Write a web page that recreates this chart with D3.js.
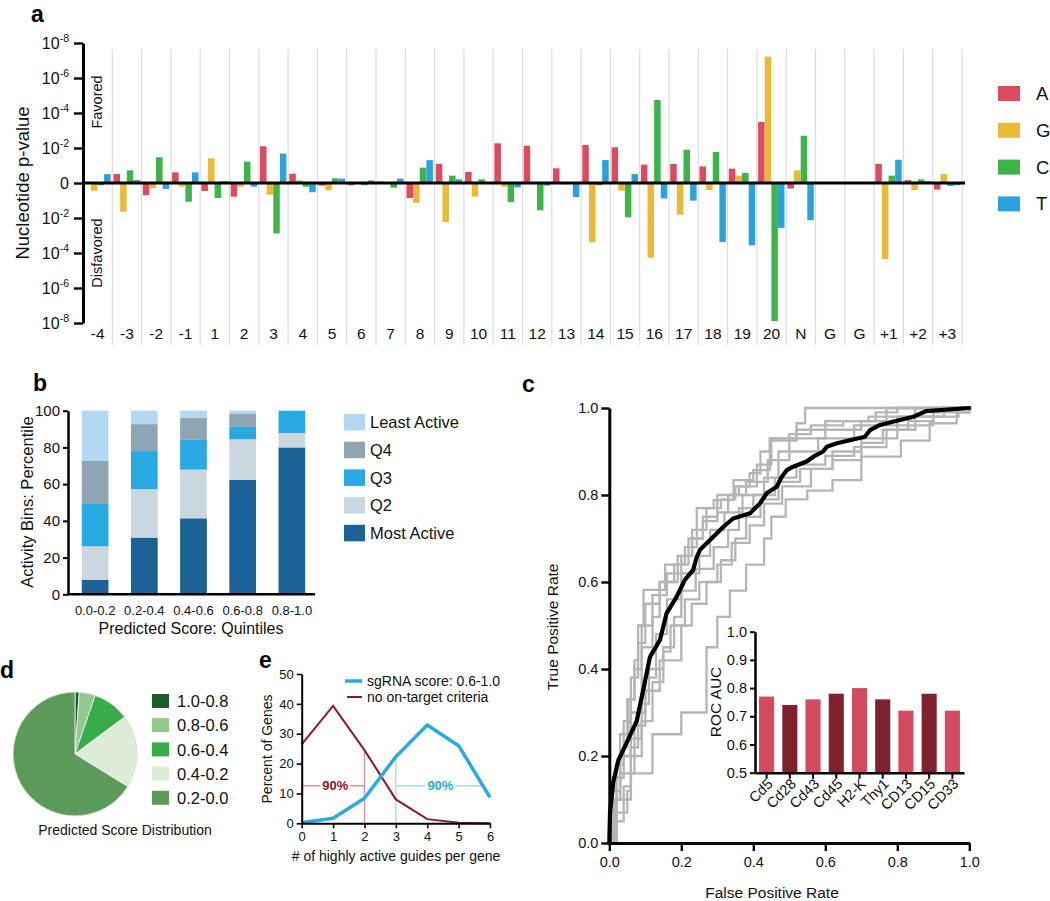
<!DOCTYPE html>
<html><head><meta charset="utf-8">
<script src="https://cdn.jsdelivr.net/npm/d3@7"></script>
<style>
body{margin:0;background:#fff;}
svg{display:block;font-family:"Liberation Sans",Arial,Helvetica,sans-serif;}
</style></head>
<body>
<svg id="fig" width="1050" height="901"></svg>
<script>
// ---------- DATA ----------
// Panel a: signed -log10(p) (positive = favored, negative = disfavored)
const positions = ["-4","-3","-2","-1","1","2","3","4","5","6","7","8","9","10","11","12","13","14","15","16","17","18","19","20","N","G","G","+1","+2","+3"];
const nucleotides = ["A","G","C","T"];
const valA = [0,0.51,-0.70,0.61,-0.46,-0.78,2.10,0.53,-0.15,-0.13,0.08,-0.86,1.10,0.63,2.27,2.13,0.84,2.17,2.04,1.05,1.09,0.95,0.82,3.49,-0.32,0,0,1.09,0.17,-0.38];
const valG = [-0.44,-1.64,-0.30,-0.21,1.41,-0.21,-0.67,0.15,-0.42,0.02,-0.05,-1.14,-2.23,-0.78,-0.21,-0.03,-0.08,-3.39,-0.44,-4.27,-1.81,-0.40,0.42,7.22,0.72,0,0,-4.34,-0.40,0.51];
const valC = [-0.13,0.72,1.47,-1.07,-0.86,1.22,-2.88,-0.21,0.27,-0.13,-0.27,0.88,0.42,0.21,-1.09,-1.56,0.02,-0.13,-1.96,4.74,1.90,1.77,0.57,-7.89,2.70,0,0,0.42,0.21,-0.17];
const valT = [0.51,0.17,-0.34,0.61,0.10,-0.21,1.68,-0.53,0.25,0.15,0.25,1.31,0.21,0.02,-0.25,-0.15,-0.80,1.31,0.51,-0.88,-1.01,-3.37,-3.56,-2.57,-2.13,0,0,1.33,0.11,-0.13];
const aTicks = [8,6,4,2,0,-2,-4,-6,-8];

// Panel b: stacked percentages per predicted score quintile
const quintiles = ["0.0-0.2","0.2-0.4","0.4-0.6","0.6-0.8","0.8-1.0"];
const activityBins = ["Most Active","Q2","Q3","Q4","Least Active"];
const mostActive  = [7.8,30.9,41.4,62.3,80.0];
const q2          = [18.3,26.3,26.5,22.1,7.8];
const q3          = [23.1,20.8,16.5,6.7,12.2];
const q4          = [23.4,14.7,11.8,7.1,0];
const leastActive = [27.4,7.3,3.8,1.8,0];

// Panel c: ROC curves
const rocMain = [[0,0],[0.002,0.07],[0.011,0.14],[0.025,0.19],[0.048,0.23],[0.076,0.28],[0.095,0.355],[0.113,0.428],[0.141,0.467],[0.159,0.528],[0.187,0.566],[0.21,0.605],[0.233,0.628],[0.243,0.658],[0.252,0.674],[0.289,0.704],[0.317,0.727],[0.344,0.746],[0.391,0.758],[0.419,0.781],[0.437,0.804],[0.465,0.819],[0.479,0.842],[0.493,0.857],[0.511,0.865],[0.548,0.877],[0.567,0.888],[0.594,0.9],[0.604,0.911],[0.632,0.919],[0.668,0.926],[0.71,0.934],[0.724,0.949],[0.752,0.961],[0.79,0.969],[0.845,0.98],[0.88,0.993],[1.0,1.0]];
const rocGene1 = [[0,0],[0.01,0.15],[0.03,0.25],[0.053,0.33],[0.07,0.42],[0.08,0.5],[0.095,0.582],[0.155,0.64],[0.21,0.68],[0.243,0.735],[0.243,0.77],[0.29,0.788],[0.345,0.834],[0.4,0.857],[0.446,0.925],[0.52,0.965],[0.544,1.0],[1,1]];
const rocGene2 = [[0,0],[0.02,0.1],[0.03,0.2],[0.06,0.3],[0.09,0.45],[0.12,0.52],[0.14,0.6],[0.19,0.66],[0.23,0.7],[0.26,0.74],[0.3,0.76],[0.33,0.8],[0.38,0.83],[0.44,0.88],[0.5,0.93],[0.6,0.95],[0.7,0.97],[0.77,1.0],[1,1]];
const rocGene3 = [[0,0],[0.015,0.07],[0.05,0.12],[0.06,0.22],[0.08,0.3],[0.1,0.38],[0.13,0.48],[0.16,0.56],[0.2,0.62],[0.25,0.66],[0.28,0.72],[0.32,0.76],[0.37,0.8],[0.43,0.84],[0.47,0.9],[0.58,0.93],[0.68,0.96],[0.8,0.98],[0.93,1.0],[1,1]];
const rocGene4 = [[0,0],[0.02,0.1],[0.06,0.16],[0.12,0.25],[0.2,0.3],[0.27,0.37],[0.27,0.45],[0.3,0.52],[0.335,0.58],[0.38,0.64],[0.43,0.7],[0.45,0.75],[0.49,0.79],[0.55,0.81],[0.62,0.834],[0.7,0.888],[0.81,0.925],[0.89,0.965],[0.965,0.99],[1,1]];
const rocGene5 = [[0,0],[0.01,0.12],[0.03,0.2],[0.07,0.27],[0.1,0.35],[0.14,0.42],[0.2,0.5],[0.229,0.55],[0.27,0.6],[0.31,0.65],[0.35,0.7],[0.38,0.75],[0.42,0.79],[0.47,0.83],[0.53,0.86],[0.62,0.9],[0.7,0.93],[0.8,0.96],[0.9,0.99],[1,1]];
const rocGene6 = [[0,0],[0.005,0.1],[0.02,0.18],[0.04,0.28],[0.06,0.38],[0.08,0.46],[0.1,0.55],[0.14,0.6],[0.18,0.64],[0.22,0.7],[0.26,0.75],[0.3,0.8],[0.36,0.82],[0.41,0.87],[0.45,0.93],[0.52,0.95],[0.6,0.97],[0.72,0.98],[0.85,1.0],[1,1]];
const rocGene7 = [[0,0],[0.01,0.05],[0.04,0.13],[0.06,0.24],[0.09,0.32],[0.11,0.4],[0.15,0.45],[0.18,0.52],[0.2,0.58],[0.24,0.63],[0.29,0.68],[0.33,0.72],[0.36,0.77],[0.4,0.8],[0.46,0.84],[0.52,0.87],[0.6,0.89],[0.68,0.91],[0.77,0.95],[0.85,0.98],[0.9,1.0],[1,1]];
const rocGene8 = [[0,0],[0.02,0.15],[0.04,0.22],[0.05,0.33],[0.07,0.4],[0.09,0.5],[0.12,0.57],[0.16,0.62],[0.2,0.66],[0.23,0.72],[0.27,0.77],[0.31,0.79],[0.35,0.82],[0.39,0.85],[0.42,0.9],[0.446,0.93],[0.5,0.94],[0.56,0.96],[0.65,0.97],[0.74,0.99],[0.8,1.0],[1,1]];
const rocGene9 = [[0,0],[0.015,0.1],[0.03,0.16],[0.07,0.2],[0.09,0.28],[0.12,0.37],[0.15,0.44],[0.17,0.5],[0.21,0.56],[0.25,0.6],[0.3,0.64],[0.34,0.69],[0.39,0.73],[0.43,0.78],[0.48,0.82],[0.56,0.86],[0.62,0.88],[0.7,0.92],[0.76,0.95],[0.83,0.97],[0.9,0.98],[0.97,1.0],[1,1]];
const rocAxisTicks = [0,0.2,0.4,0.6,0.8,1.0];

// Panel c inset: ROC AUC per gene
const genes = ["Cd5","Cd28","Cd43","Cd45","H2-K","Thy1","CD13","CD15","CD33"];
const aucValues = [0.77,0.74,0.76,0.78,0.80,0.76,0.72,0.78,0.72];
const aucTicks = [0.5,0.6,0.7,0.8,0.9,1.0];

// Panel d: predicted score distribution (%)
const scoreBins = ["1.0-0.8","0.8-0.6","0.6-0.4","0.4-0.2","0.2-0.0"];
const scoreShares = [1.1,4.2,9.5,19.0,66.2];

// Panel e: percent of genes vs # highly active guides
const guideCounts = [0,1,2,3,4,5,6];
const sgRNAScore = [0.2,1.7,8.4,22.3,32.9,26.0,8.7];
const noCriteria = [26.4,39.3,24.5,8.0,1.4,0.2,0.0];
const eYTicks = [0,10,20,30,40,50];
const ninety = {redX:2, blueX:3, level:12.6, blueEnd:5.77};

// ---------- DRAW ----------
const svg = d3.select("#fig");
svg.append("rect").attr("width",1050).attr("height",901).attr("fill","#fff");
const FONT = '"Liberation Sans",Arial,Helvetica,sans-serif';

function panelLabel(t,x,y){ svg.append("text").attr("x",x).attr("y",y).attr("font-size",23).attr("font-weight","bold").text(t); }
function styleAxis(g,w){ g.select(".domain").attr("stroke","#000").attr("stroke-width",w); g.selectAll(".tick line").attr("stroke","#000").attr("stroke-width",w*0.8); g.selectAll("text").attr("font-family",FONT).attr("fill","#111"); }

// ===== Panel a =====
const nucColors = {A:"#de4a5f",G:"#ebb935",C:"#3cb44a",T:"#2aa3dc"};
const aVals = {A:valA,G:valG,C:valC,T:valT};
const ax = d3.scaleBand().domain(d3.range(positions.length)).range([83,962]);
const axInner = d3.scaleBand().domain(nucleotides).range([1.2,27.6]).paddingInner(0.02);
const ay = d3.scaleLinear().domain([-8,8]).range([323,43]);
const aG = svg.append("g");
aG.selectAll("line.grid").data(d3.range(1,positions.length+1)).join("line")
  .attr("x1",i=>ax(0)+i*ax.step()).attr("x2",i=>ax(0)+i*ax.step())
  .attr("y1",49).attr("y2",345).attr("stroke","#dcdcdc").attr("stroke-width",1.2);
positions.forEach((p,i)=>{
  nucleotides.forEach(n=>{
    const v = aVals[n][i];
    if (v===0) return;
    aG.append("rect").attr("x",ax(i)+axInner(n)).attr("width",axInner.bandwidth())
      .attr("y",ay(Math.max(0,v))).attr("height",Math.abs(ay(v)-ay(0)))
      .attr("fill",nucColors[n]);
  });
});
aG.append("line").attr("x1",83).attr("x2",965).attr("y1",ay(0)).attr("y2",ay(0)).attr("stroke","#000").attr("stroke-width",3);
const aAxis = aG.append("g").attr("transform","translate(83,0)").call(d3.axisLeft(ay).tickValues(aTicks).tickSize(9).tickSizeOuter(0).tickFormat(""));
styleAxis(aAxis,3);
aAxis.selectAll(".tick").each(function(d){
  const t = d3.select(this).append("text").attr("x",-14).attr("dy","0.35em").attr("text-anchor","end").attr("font-size",16).attr("font-family",FONT).attr("fill","#111");
  if (d===0) t.text("0");
  else { t.append("tspan").text("10"); t.append("tspan").attr("dy",-7).attr("font-size",10.5).text("-"+Math.abs(d)); }
});
aG.selectAll("text.cat").data(positions).join("text")
  .attr("x",(d,i)=>ax(i)+ax.bandwidth()/2).attr("y",339).attr("text-anchor","middle")
  .attr("font-size",15.5).attr("fill","#111").text(d=>d);
aG.append("text").attr("transform","translate(29,183) rotate(-90)").attr("text-anchor","middle").attr("font-size",18.5).attr("fill","#111").text("Nucleotide p-value");
aG.append("text").attr("transform","translate(102,102) rotate(-90)").attr("text-anchor","middle").attr("font-size",14.5).attr("fill","#111").text("Favored");
aG.append("text").attr("transform","translate(102,253) rotate(-90)").attr("text-anchor","middle").attr("font-size",14.5).attr("fill","#111").text("Disfavored");
nucleotides.forEach((n,i)=>{
  const y = 86 + i*36.8;
  aG.append("rect").attr("x",998).attr("y",y).attr("width",22).attr("height",15).attr("fill",nucColors[n]);
  aG.append("text").attr("x",1036).attr("y",y+7.5).attr("dy","0.35em").attr("font-size",18.5).attr("fill","#111").text(n);
});
panelLabel("a",31,22);

// ===== Panel b =====
const binColors = {"Most Active":"#1b6396","Q2":"#cbd7df","Q3":"#29a9e1","Q4":"#8ea5b3","Least Active":"#b3d8f2"};
const bSeries = {"Most Active":mostActive,"Q2":q2,"Q3":q3,"Q4":q4,"Least Active":leastActive};
const bx = d3.scaleBand().domain(quintiles).range([68,319]).paddingInner(0.457).paddingOuter(0.28);
const by = d3.scaleLinear().domain([0,100]).range([594.3,410.7]);
const bG = svg.append("g");
const bRows = quintiles.map((q,i)=>{ const r={q}; activityBins.forEach(b=>r[b]=bSeries[b][i]); return r; });
const stack = d3.stack().keys(activityBins)(bRows);
stack.forEach(layer=>{
  bG.selectAll(null).data(layer).join("rect")
    .attr("x",d=>bx(d.data.q)).attr("width",bx.bandwidth())
    .attr("y",d=>by(d[1])).attr("height",d=>by(d[0])-by(d[1]))
    .attr("fill",binColors[layer.key]);
});
const bYAxis = bG.append("g").attr("transform","translate(68,0)").call(d3.axisLeft(by).tickValues([0,20,40,60,80,100]).tickSize(5).tickSizeOuter(0));
styleAxis(bYAxis,2.5); bYAxis.selectAll("text").attr("font-size",15);
const bXAxis = bG.append("g").attr("transform","translate(0,594.3)").call(d3.axisBottom(bx).tickSize(0).tickSizeOuter(0).tickPadding(11));
bXAxis.select(".domain").attr("d","M68,0H315").attr("stroke","#000").attr("stroke-width",2.5);
bXAxis.selectAll("text").attr("font-size",13).attr("font-family",FONT).attr("fill","#111");
bG.append("text").attr("x",191).attr("y",634).attr("text-anchor","middle").attr("font-size",16).attr("fill","#111").text("Predicted Score: Quintiles");
bG.append("text").attr("transform","translate(33,502) rotate(-90)").attr("text-anchor","middle").attr("font-size",16.5).attr("fill","#111").text("Activity Bins: Percentile");
activityBins.slice().reverse().forEach((b,i)=>{
  const y = 414 + i*27.7;
  bG.append("rect").attr("x",344).attr("y",y).attr("width",21).attr("height",16.5).attr("fill",binColors[b]);
  bG.append("text").attr("x",370).attr("y",y+8.5).attr("dy","0.35em").attr("font-size",16.5).attr("fill","#111").text(b);
});
panelLabel("b",33,391);

// ===== Panel c =====
const cx = d3.scaleLinear().domain([0,1]).range([609.3,969.3]);
const cy = d3.scaleLinear().domain([0,1]).range([843,408]);
const cG = svg.append("g");
const grayCurves = [rocGene1,rocGene2,rocGene3,rocGene4,rocGene5,rocGene6,rocGene7,rocGene8,rocGene9];
const stepLine = d3.line().x(d=>cx(d[0])).y(d=>cy(d[1])).curve(d3.curveStepAfter);
grayCurves.forEach(c=>cG.append("path").attr("d",stepLine(c)).attr("fill","none").attr("stroke","#b5b5b5").attr("stroke-width",2.3));
cG.append("path").attr("d",d3.line().x(d=>cx(d[0])).y(d=>cy(d[1]))(rocMain)).attr("fill","none").attr("stroke","#000").attr("stroke-width",4.2).attr("stroke-linejoin","round").attr("stroke-linecap","round");
const cYAxis = cG.append("g").attr("transform","translate(609.3,0)").call(d3.axisLeft(cy).tickValues(rocAxisTicks).tickFormat(d3.format(".1f")).tickSize(8).tickSizeOuter(0));
styleAxis(cYAxis,3); cYAxis.selectAll("text").attr("font-size",14.5);
const cXAxis = cG.append("g").attr("transform","translate(0,843)").call(d3.axisBottom(cx).tickValues(rocAxisTicks).tickFormat(d3.format(".1f")).tickSize(8).tickSizeOuter(0).tickPadding(6));
styleAxis(cXAxis,3); cXAxis.selectAll("text").attr("font-size",14.5);
cG.append("text").attr("x",772).attr("y",898).attr("text-anchor","middle").attr("font-size",15.5).attr("fill","#111").text("False Positive Rate");
cG.append("text").attr("transform","translate(558,627) rotate(-90)").attr("text-anchor","middle").attr("font-size",15.5).attr("fill","#111").text("True Positive Rate");
panelLabel("c",522,392);
const ix = d3.scaleBand().domain(genes).range([755,964]).paddingInner(0.35).paddingOuter(0.175);
const iy = d3.scaleLinear().domain([0.5,1.0]).range([772.7,631.7]);
cG.selectAll("rect.auc").data(genes).join("rect")
  .attr("x",d=>ix(d)).attr("width",ix.bandwidth())
  .attr("y",(d,i)=>iy(aucValues[i])).attr("height",(d,i)=>iy(0.5)-iy(aucValues[i]))
  .attr("fill",(d,i)=>i%2===0?"#d24b5f":"#80212f");
const iYAxis = cG.append("g").attr("transform","translate(755,0)").call(d3.axisLeft(iy).tickValues(aucTicks).tickFormat(d3.format(".1f")).tickSize(5).tickSizeOuter(0));
styleAxis(iYAxis,2.5); iYAxis.selectAll("text").attr("font-size",14.5);
const iXAxis = cG.append("g").attr("transform","translate(0,772.7)").call(d3.axisBottom(ix).tickSize(6).tickSizeOuter(0));
styleAxis(iXAxis,2.5);
iXAxis.selectAll("text").attr("font-size",14.5).attr("text-anchor","end").attr("transform","translate(4,9) rotate(-45)").attr("dy","0.3em").attr("y",0).attr("x",0);
cG.append("text").attr("transform","translate(721,702) rotate(-90)").attr("text-anchor","middle").attr("font-size",15.5).attr("fill","#111").text("ROC AUC");

// ===== Panel d =====
const dColors = ["#1d5c2c","#94c98e","#3aab4a","#dcecd6","#5b9a59"];
const dG = svg.append("g").attr("transform","translate(75,754)");
const pie = d3.pie().sort(null).value(d=>d)(scoreShares);
const arc = d3.arc().innerRadius(0).outerRadius(62);
dG.selectAll("path").data(pie).join("path").attr("d",arc).attr("fill",(d,i)=>dColors[i]).attr("stroke","#f4f4f4").attr("stroke-width",0.8);
dG.append("circle").attr("r",62).attr("fill","none").attr("stroke","#c8d4c4").attr("stroke-width",0.6);
scoreBins.forEach((b,i)=>{
  const y = 694 + i*24.2;
  svg.append("rect").attr("x",152).attr("y",y).attr("width",17).attr("height",14).attr("fill",dColors[i]);
  svg.append("text").attr("x",177).attr("y",y+7).attr("dy","0.37em").attr("font-size",16.5).attr("fill","#111").text(b);
});
svg.append("text").attr("x",125).attr("y",835).attr("text-anchor","middle").attr("font-size",14).attr("fill","#111").text("Predicted Score Distribution");
panelLabel("d",0,678);

// ===== Panel e =====
const ex = d3.scaleLinear().domain([0,6]).range([301.7,490]);
const ey = d3.scaleLinear().domain([0,50]).range([823.3,674]);
const eG = svg.append("g");
const blue = "#29abe2", wine = "#8b1a2b";
eG.append("line").attr("x1",ex(ninety.redX)).attr("x2",ex(ninety.redX)).attr("y1",ey(0)).attr("y2",ey(noCriteria[2])).attr("stroke","#d5949d").attr("stroke-width",1.4);
eG.append("line").attr("x1",ex(0)).attr("x2",ex(ninety.redX)).attr("y1",ey(ninety.level)).attr("y2",ey(ninety.level)).attr("stroke","#d5949d").attr("stroke-width",1.4);
eG.append("line").attr("x1",ex(ninety.blueX)).attr("x2",ex(ninety.blueX)).attr("y1",ey(0)).attr("y2",ey(sgRNAScore[3])).attr("stroke","#a6dbf2").attr("stroke-width",1.4);
eG.append("line").attr("x1",ex(ninety.blueX)).attr("x2",ex(ninety.blueEnd)).attr("y1",ey(ninety.level)).attr("y2",ey(ninety.level)).attr("stroke","#a6dbf2").attr("stroke-width",1.4);
eG.append("rect").attr("x",ex(1.07)-15).attr("y",ey(ninety.level)-7).attr("width",30).attr("height",14).attr("fill","#fff");
eG.append("rect").attr("x",ex(4.42)-15).attr("y",ey(ninety.level)-7).attr("width",30).attr("height",14).attr("fill","#fff");
eG.append("text").attr("x",ex(1.07)).attr("y",ey(ninety.level)).attr("dy","0.36em").attr("text-anchor","middle").attr("font-size",13).attr("font-weight","bold").attr("fill",wine).text("90%");
eG.append("text").attr("x",ex(4.42)).attr("y",ey(ninety.level)).attr("dy","0.36em").attr("text-anchor","middle").attr("font-size",13).attr("font-weight","bold").attr("fill",blue).text("90%");
const eLine = arr => d3.line().x((d,i)=>ex(guideCounts[i])).y(d=>ey(d))(arr);
eG.append("path").attr("d",eLine(noCriteria)).attr("fill","none").attr("stroke",wine).attr("stroke-width",2);
eG.append("path").attr("d",eLine(sgRNAScore)).attr("fill","none").attr("stroke",blue).attr("stroke-width",3.5).attr("stroke-linejoin","round");
const eYAxis = eG.append("g").attr("transform","translate(301.7,0)").call(d3.axisLeft(ey).tickValues(eYTicks).tickSize(5).tickSizeOuter(0));
styleAxis(eYAxis,2); eYAxis.selectAll("text").attr("font-size",13);
const eXAxis = eG.append("g").attr("transform","translate(0,823.3)").call(d3.axisBottom(ex).tickValues(guideCounts).tickFormat(d3.format("d")).tickSize(5).tickSizeOuter(0).tickPadding(3));
styleAxis(eXAxis,2); eXAxis.selectAll("text").attr("font-size",13);
eG.append("text").attr("x",396).attr("y",861).attr("text-anchor","middle").attr("font-size",14).attr("fill","#111").text("# of highly active guides per gene");
eG.append("text").attr("transform","translate(272,749) rotate(-90)").attr("text-anchor","middle").attr("font-size",14).attr("fill","#111").text("Percent of Genes");
eG.append("line").attr("x1",345).attr("x2",362).attr("y1",681).attr("y2",681).attr("stroke",blue).attr("stroke-width",3.5);
eG.append("text").attr("x",367).attr("y",681).attr("dy","0.36em").attr("font-size",14).attr("fill","#111").text("sgRNA score: 0.6-1.0");
eG.append("line").attr("x1",347).attr("x2",362).attr("y1",697).attr("y2",697).attr("stroke",wine).attr("stroke-width",2);
eG.append("text").attr("x",367).attr("y",697).attr("dy","0.36em").attr("font-size",14).attr("fill","#111").text("no on-target criteria");
panelLabel("e",259,668);
</script>
</body></html>
